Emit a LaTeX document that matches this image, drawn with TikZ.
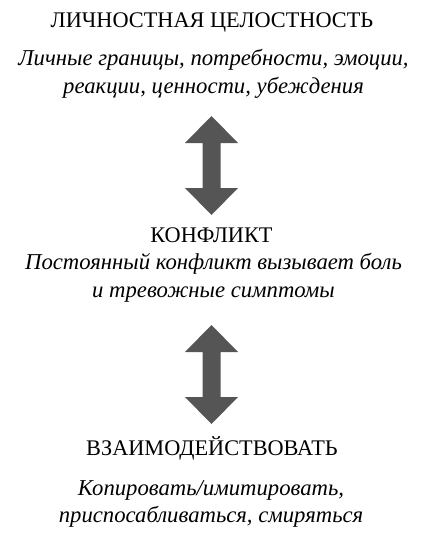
\documentclass[tikz,border=0pt]{standalone}
\usepackage{fontspec}
\setmainfont{Liberation Serif}
\begin{document}
\begin{tikzpicture}[x=1pt,y=-1pt,
  title/.style={font=\fontsize{22.3}{26}\selectfont, text=black, inner sep=0pt},
  desc/.style={font=\fontsize{22.7}{27.5}\selectfont\itshape, text=black, align=center, inner sep=0pt},
  dblarrow/.pic={\fill[arrowgray] (0,-49.5) -- (26.5,-22.5) -- (9,-22.5) -- (9,22.5) -- (26.5,22.5) -- (0,49.5) -- (-26.5,22.5) -- (-9,22.5) -- (-9,-22.5) -- (-26.5,-22.5) -- cycle;}
]
\definecolor{arrowgray}{RGB}{85,85,85}
\useasboundingbox (0,0) rectangle (427,546);
\node[title, anchor=base] (t1) at (212,27.5) {ЛИЧНОСТНАЯ ЦЕЛОСТНОСТЬ};
\node[desc, anchor=base] (d1) at (213.5,93) {Личные границы, потребности, эмоции,\\реакции, ценности, убеждения};
\pic at (211.5,165.5) {dblarrow};
\node[title, anchor=base] (t2) at (211.5,242.7) {КОНФЛИКТ};
\node[desc, anchor=base] (d2) at (213.5,297) {Постоянный конфликт вызывает боль\\и тревожные симптомы};
\pic at (211.5,374.5) {dblarrow};
\node[title, anchor=base] (t3) at (212,455) {ВЗАИМОДЕЙСТВОВАТЬ};
\node[desc, anchor=base] (d3) at (211,522.7) {Копировать/имитировать,\\приспосабливаться, смиряться};
\end{tikzpicture}
\end{document}
